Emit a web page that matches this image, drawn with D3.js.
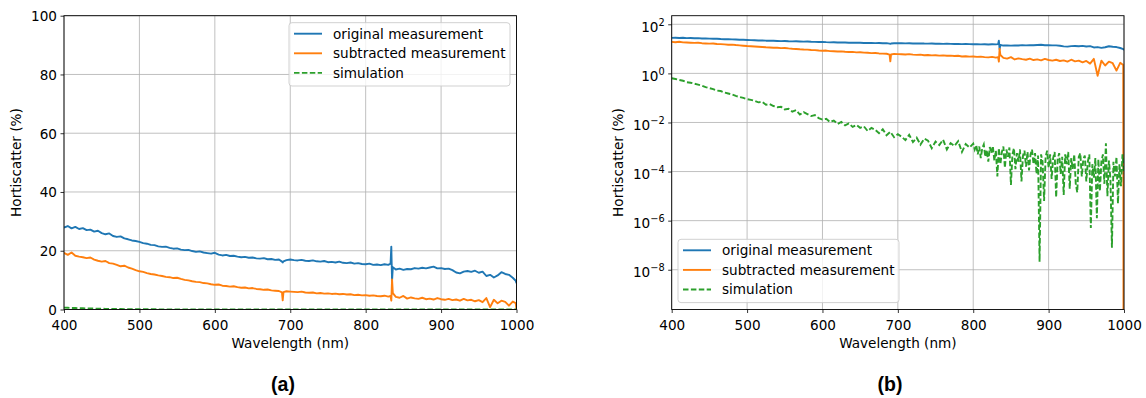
<!DOCTYPE html>
<html><head><meta charset="utf-8">
<script src="https://cdn.jsdelivr.net/npm/d3@7/dist/d3.min.js"></script>
<style>body{margin:0;background:#fff} svg{display:block}</style>
</head><body>
<svg id="fig" width="1146" height="398"></svg>
<script>
// Sampling grid of the measured spectra (nm); extra samples around the 690 nm dip, the 835 nm spike and the band edge
const wavelength = [...d3.range(400, 686, 5), 689, 690, 691, ...d3.range(695, 831, 5), 833, 834, 835, 836, ...d3.range(840, 996, 5), 999, 1000];

// Original measurement (%)
const original = [
  27.9, 28.4, 27.6, 28.1, 27.4, 27.7, 27.0, 27.2, 26.5, 26.8,
  26.0, 25.6, 25.9, 25.0, 24.7, 24.9, 24.2, 23.9, 23.5, 23.3,
  23.0, 22.6, 22.4, 22.0, 21.9, 21.5, 21.3, 21.4, 21.0, 20.7,
  20.8, 20.4, 20.2, 20.3, 19.9, 19.6, 19.8, 19.4, 19.2, 19.0,
  19.3, 18.7, 18.4, 18.6, 18.2, 18.3, 18.0, 17.8, 17.9, 17.6,
  17.7, 17.4, 17.3, 17.5, 17.1, 17.2, 16.9, 17.0,
  16.3, 16.0, 16.4,
  16.8, 17.0, 16.8, 16.7, 16.9, 16.6, 16.5, 16.7, 16.4, 16.3,
  16.5, 16.1, 16.2, 16.0, 16.3, 15.9, 15.8, 16.0, 15.6, 15.8,
  15.5, 15.4, 15.6, 15.2, 15.3, 15.1, 15.4, 15.2,
  15.6, 21.4, 9.8, 14.4,
  13.6, 13.9, 13.5, 13.8, 13.7, 14.1, 13.9, 14.2, 14.0, 14.3,
  14.6, 14.0, 14.1, 13.8, 13.9, 13.4, 12.6, 12.3, 12.9, 13.1,
  12.8, 13.2, 12.5, 12.9, 11.4, 11.8, 10.9, 11.6, 12.7, 12.1,
  11.8, 10.8, 9.8, 8.9
];

// Subtracted measurement (%)
const subtracted = [
  19.3, 18.6, 19.4, 18.3, 18.0, 17.8, 17.5, 17.7, 17.0, 16.6,
  16.3, 16.5, 15.8, 15.6, 15.2, 14.7, 14.9, 14.3, 13.9, 13.4,
  13.0, 12.8, 12.4, 12.1, 11.9, 11.6, 11.4, 11.1, 11.0, 10.7,
  10.8, 10.4, 10.1, 9.9, 9.6, 9.4, 9.3, 9.0, 8.9, 8.6,
  8.4, 8.5, 8.1, 8.0, 7.8, 7.9, 7.6, 7.4, 7.5, 7.2,
  7.3, 7.0, 6.9, 6.7, 6.8, 6.5, 6.4, 6.3,
  5.8, 3.1, 5.9,
  6.2, 6.1, 6.0, 5.9, 6.1, 5.8, 5.7, 5.8, 5.5, 5.6,
  5.4, 5.5, 5.3, 5.4, 5.2, 5.3, 5.1, 5.2, 4.9, 5.0,
  4.8, 4.9, 4.7, 4.8, 4.6, 4.5, 4.7, 4.4,
  4.6, 3.0, 10.2, 5.6,
  4.3, 4.0, 4.6, 3.7, 4.1, 3.8, 3.6, 4.0, 3.5, 3.7,
  3.4, 3.9, 3.5, 3.3, 3.6, 3.2, 3.4, 3.0, 3.6, 3.1,
  3.3, 2.8, 3.2, 2.5, 3.9, 0.8, 3.3, 2.1, 3.0, 2.6,
  1.3, 2.7, 2.2, 0
];

// Simulation grid (nm) and simulated horiscatter as log10(%)
const simWavelength = [...d3.range(400, 801, 5), ...d3.range(802, 1001, 2)];
const simulationLog10 = [
  -0.20, -0.23, -0.27, -0.30, -0.36, -0.38, -0.42, -0.46, -0.50, -0.56,
  -0.60, -0.64, -0.70, -0.72, -0.78, -0.82, -0.86, -0.92, -0.96, -1.00,
  -1.05, -1.08, -1.12, -1.18, -1.16, -1.28, -1.25, -1.33, -1.38, -1.36,
  -1.47, -1.44, -1.56, -1.50, -1.68, -1.58, -1.66, -1.74, -1.70, -1.82,
  -1.88, -1.85, -1.98, -1.92, -2.06, -1.98, -2.12, -2.04, -2.18, -2.10,
  -2.22, -2.16, -2.35, -2.22, -2.30, -2.44, -2.28, -2.52, -2.38, -2.60,
  -2.48, -2.58, -2.72, -2.50, -2.80, -2.62, -2.90, -2.66, -2.74, -3.05,
  -2.78, -2.92, -2.70, -3.10, -2.84, -2.96, -2.76, -3.20, -2.88, -3.02,
  -2.86,
  -3.10, -2.92, -3.30, -2.98, -3.45, -3.05, -2.90, -3.40, -3.12, -3.60,
  -3.00, -3.25, -2.96, -3.55, -3.15, -4.20, -3.05, -3.70, -3.20, -2.98,
  -3.85, -3.10, -3.40, -3.02, -4.55, -3.30, -3.05, -3.90, -3.25, -3.60,
  -3.10, -4.40, -3.35, -3.15, -3.80, -3.20, -3.95, -3.30, -3.10, -3.70,
  -3.25, -4.10, -3.35, -7.67, -3.30, -3.60, -5.20, -3.40, -3.15, -3.85,
  -3.30, -4.30, -3.45, -3.20, -5.05, -3.50, -3.25, -4.10, -3.40, -4.95,
  -3.30, -3.70, -3.20, -4.70, -3.45, -3.90, -3.30, -4.50, -4.85, -3.40,
  -3.25, -4.20, -3.50, -3.35, -4.40, -3.60, -3.30, -6.30, -3.70, -4.25,
  -3.45, -5.90, -3.50, -4.80, -3.60, -3.30, -4.50, -2.85, -5.00, -3.55,
  -4.30, -7.10, -3.60, -4.20, -3.40, -5.30, -3.70, -4.60, -3.30, -4.10
];
const simulation = simulationLog10.map(v => Math.pow(10, v));

const xTicks = [400, 500, 600, 700, 800, 900, 1000];
const linTicks = [0, 20, 40, 60, 80, 100];
const logTickExponents = [2, 0, -2, -4, -6, -8];
const seriesNames = ["original measurement", "subtracted measurement", "simulation"];
const colors = ["#1f77b4", "#ff7f0e", "#2ca02c"];

const FONT = "'DejaVu Sans', sans-serif";
const FS = 13.6;
const LW = 1.9;
const DASH = "5.5,2.4";
const svg = d3.select("#fig");

function drawPanel(id, box, yScale, isLog, labelOffset, legendPos, panelLabel) {
  const x = d3.scaleLinear().domain([400, 1000]).range([box.left, box.right]);
  const y = yScale.range([box.bottom, box.top]);
  const g = svg.append("g");

  g.append("clipPath").attr("id", "clip-" + id)
    .append("rect").attr("x", box.left).attr("y", box.top)
    .attr("width", box.right - box.left).attr("height", box.bottom - box.top);

  // grid
  const grid = g.append("g").attr("stroke", "#b0b0b0").attr("stroke-width", 0.8);
  xTicks.forEach(t => grid.append("line").attr("x1", x(t)).attr("x2", x(t)).attr("y1", box.top).attr("y2", box.bottom));
  const yTickVals = isLog ? logTickExponents.map(e => Math.pow(10, e)) : linTicks;
  yTickVals.forEach(t => grid.append("line").attr("x1", box.left).attr("x2", box.right).attr("y1", y(t)).attr("y2", y(t)));

  // data (non-positive values fall off the bottom of a log axis)
  const yVal = v => isLog ? y(v > 0 ? v : 1e-30) : y(v);
  const plot = g.append("g").attr("clip-path", `url(#clip-${id})`);
  const line = d3.line().x(d => x(d[0])).y(d => yVal(d[1]));
  [original, subtracted].forEach((vals, i) => {
    plot.append("path").datum(wavelength.map((w, k) => [w, vals[k]]))
      .attr("d", line).attr("fill", "none").attr("stroke", colors[i])
      .attr("stroke-width", LW).attr("stroke-linejoin", "round");
  });
  plot.append("path").datum(simWavelength.map((w, k) => [w, simulation[k]]))
    .attr("d", line).attr("fill", "none").attr("stroke", colors[2])
    .attr("stroke-width", LW).attr("stroke-dasharray", DASH);

  // axes
  const xAxis = g.append("g").attr("transform", `translate(0,${box.bottom})`)
    .call(d3.axisBottom(x).tickValues(xTicks).tickSize(3.5).tickPadding(3.5).tickFormat(d3.format("d")));
  const yAxis = g.append("g").attr("transform", `translate(${box.left},0)`)
    .call(d3.axisLeft(y).tickValues(yTickVals).tickSize(3.5).tickPadding(3.5));
  [xAxis, yAxis].forEach(a => {
    a.select(".domain").remove();
    a.attr("font-family", FONT).attr("font-size", FS);
    a.selectAll(".tick line").attr("stroke", "#000").attr("stroke-width", 0.8);
    a.selectAll(".tick text").attr("fill", "#000");
  });
  xAxis.selectAll(".tick text").attr("dy", null).attr("y", 20.5);
  if (isLog) {
    yAxis.selectAll(".tick text").each(function(d) {
      const t = d3.select(this).text("");
      const e = Math.round(Math.log10(d));
      t.append("tspan").text("10");
      t.append("tspan").attr("dy", -6).attr("font-size", FS * 0.72)
        .text(e < 0 ? "\u2212" + Math.abs(e) : String(e));
    }).attr("dy", "0.52em");
  } else {
    yAxis.selectAll(".tick text").attr("dy", "0.36em");
  }

  // spines
  g.append("rect").attr("x", box.left).attr("y", box.top)
    .attr("width", box.right - box.left).attr("height", box.bottom - box.top)
    .attr("fill", "none").attr("stroke", "#000").attr("stroke-width", 0.9);

  // axis labels
  g.append("text").attr("x", (box.left + box.right) / 2).attr("y", 348)
    .attr("text-anchor", "middle").attr("font-family", FONT).attr("font-size", FS)
    .text("Wavelength (nm)");
  g.append("text").attr("transform", `translate(${box.left - labelOffset},${(box.top + box.bottom) / 2}) rotate(-90)`)
    .attr("text-anchor", "middle").attr("font-family", FONT).attr("font-size", FS)
    .text("Hortiscatter (%)");

  // legend
  const lg = g.append("g").attr("transform", `translate(${legendPos.x},${legendPos.y})`);
  lg.append("rect").attr("width", 221).attr("height", 63.3).attr("rx", 3)
    .attr("fill", "#fff").attr("fill-opacity", 0.8).attr("stroke", "#cccccc").attr("stroke-width", 0.9);
  seriesNames.forEach((name, i) => {
    const cy = 11 + i * 19.6;
    lg.append("line").attr("x1", 5).attr("x2", 33).attr("y1", cy).attr("y2", cy)
      .attr("stroke", colors[i]).attr("stroke-width", LW)
      .attr("stroke-dasharray", i === 2 ? DASH : null);
    lg.append("text").attr("x", 44).attr("y", cy).attr("dy", "0.36em")
      .attr("font-family", FONT).attr("font-size", FS).text(name);
  });

  // panel label
  svg.append("text").attr("x", panelLabel.x).attr("y", 391)
    .attr("text-anchor", "middle").attr("font-family", "'Liberation Sans', Arial, sans-serif")
    .attr("font-weight", "bold").attr("font-size", 19.5).text(panelLabel.text);
}

drawPanel("a", {left: 64, right: 516.5, top: 15.7, bottom: 309.5},
  d3.scaleLinear().domain([0, 100]), false, 43, {x: 289, y: 22.7}, {x: 283, text: "(a)"});
drawPanel("b", {left: 671.7, right: 1124, top: 15.7, bottom: 309.5},
  d3.scaleLog().domain([Math.pow(10, -9.62), Math.pow(10, 2.35)]), true, 49, {x: 678, y: 239.3}, {x: 890, text: "(b)"});
</script>
</body></html>
